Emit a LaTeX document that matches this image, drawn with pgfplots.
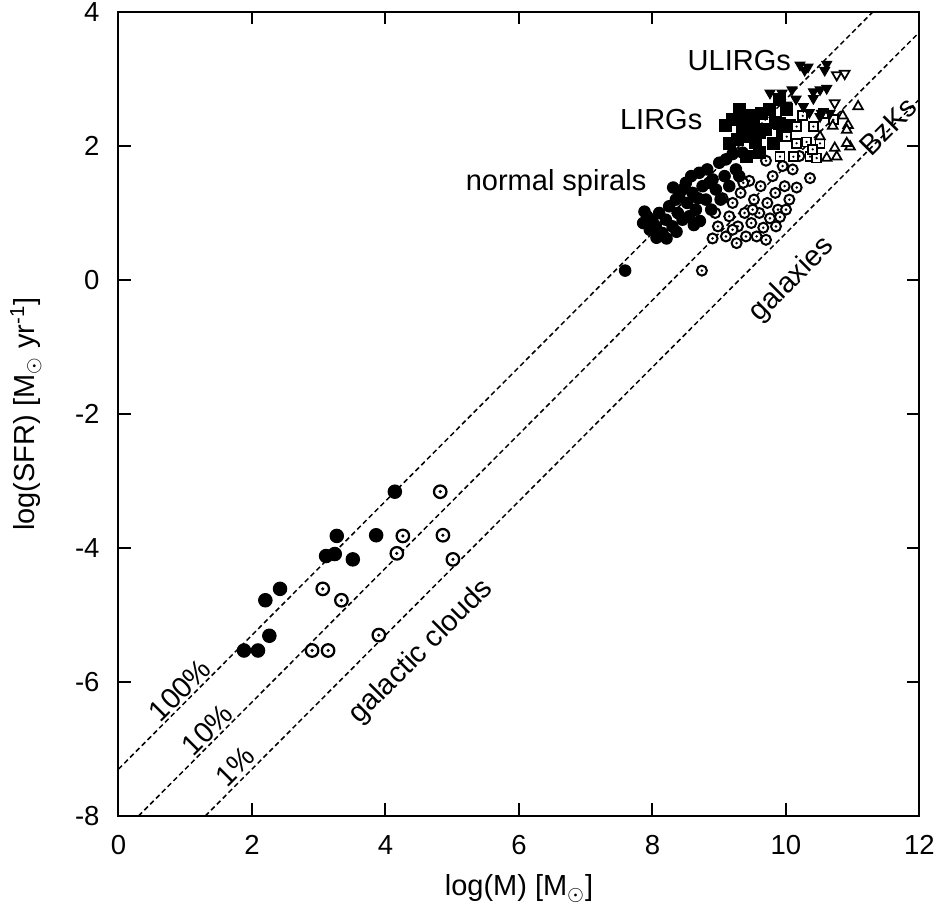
\documentclass[border=0pt]{standalone}
\usepackage{fontspec}
\setmainfont{Liberation Sans}
\usepackage{pgfplots}
\pgfplotsset{compat=1.18}
\pgfdeclareplotmark{odot}{%
  \pgfpathcircle{\pgfpointorigin}{\pgfplotmarksize}%
  \pgfusepathqfillstroke
  \begin{pgfscope}%
  \pgfsetfillcolor{black}%
  \pgfpathcircle{\pgfpointorigin}{0.28\pgfplotmarksize}%
  \pgfusepathqfill
  \end{pgfscope}}
\pgfdeclareplotmark{sqdot}{%
  \pgfpathrectangle{\pgfpoint{-\pgfplotmarksize}{-\pgfplotmarksize}}{\pgfpoint{2\pgfplotmarksize}{2\pgfplotmarksize}}%
  \pgfusepathqfillstroke
  \begin{pgfscope}%
  \pgfsetfillcolor{black}%
  \pgfpathcircle{\pgfpointorigin}{0.28\pgfplotmarksize}%
  \pgfusepathqfill
  \end{pgfscope}}
\newcommand{\fs}{\fontsize{11}{13}\selectfont}
\newcommand{\fl}{\fontsize{11.6}{13.5}\selectfont}
\begin{document}
\begin{tikzpicture}
\begin{axis}[
  width=320.4pt, height=321.6pt, scale only axis,
  xmin=0, xmax=12, ymin=-8, ymax=4,
  xtick={0,2,...,12}, ytick={-8,-6,...,4},
  tick align=inside, major tick length=5pt,
  axis line style={line width=0.8pt},
  tick style={line width=0.8pt, black},
  /pgf/number format/assume math mode=true,
  ticklabel style={font=\fs, inner sep=0pt},
  yticklabel style={xshift=-7.4pt},
  xticklabel style={yshift=-7.6pt},
  label style={font=\fl, inner sep=0pt},
  xlabel={log(M) [M\textsubscript{$\odot$}]},
  ylabel={log(SFR) [M\textsubscript{$\odot$} yr\textsuperscript{-1}]},
  xlabel style={at={(axis description cs:0.5,0)}, anchor=north, yshift=-23.2pt},
  ylabel style={at={(axis description cs:0,0.5)}, anchor=south, yshift=30.6pt},
]
% efficiency lines
\addplot[black, line width=0.6pt, dash pattern=on 2pt off 1.3pt] coordinates {(0,-7.3) (11.3,4)};
\addplot[black, line width=0.6pt, dash pattern=on 2pt off 1.3pt] coordinates {(0.3,-8) (12,3.7)};
\addplot[black, line width=0.6pt, dash pattern=on 2pt off 1.3pt] coordinates {(1.3,-8) (12,2.7)};

% galactic clouds, filled
\addplot[only marks, mark=*, mark size=2.7pt, black] coordinates {
(4.14,-3.16) (3.27,-3.82) (3.86,-3.81) (3.11,-4.12) (3.24,-4.09) (3.51,-4.17)
(2.42,-4.61) (2.20,-4.78) (2.26,-5.31) (1.88,-5.53) (2.09,-5.53)};
% galactic clouds, open
\addplot[only marks, mark=odot, mark size=2.5pt, black, mark options={fill=white, line width=0.9pt}] coordinates {
(4.82,-3.16) (4.26,-3.82) (4.86,-3.81) (4.17,-4.08) (5.01,-4.17) (3.06,-4.61)
(3.34,-4.78) (3.90,-5.30) (2.90,-5.53) (3.14,-5.53)};

% galaxies (open circles)
\addplot[only marks, mark=odot, mark size=2pt, black, mark options={fill=white, line width=0.8pt}] coordinates {
(8.74,0.14) (8.90,0.62) (8.94,1.00) (8.98,0.80) (9.05,1.22) (9.10,0.65) (9.15,0.95)
(9.20,1.15) (9.26,0.55) (9.28,0.80) (9.32,1.30) (9.38,1.00) (9.40,0.65) (9.45,1.48)
(9.48,0.85) (9.52,1.20) (9.56,0.65) (9.60,1.00) (9.62,1.40) (9.66,0.78) (9.70,1.78)
(9.72,1.15) (9.76,0.92) (9.80,1.55) (9.84,1.30) (9.88,1.05) (9.91,0.94) (9.95,1.70)
(9.98,1.40) (10.05,1.20) (10.10,1.65) (10.16,1.38) (10.20,1.85) (10.36,1.52) (9.36,1.45)
(9.20,0.75) (9.50,1.05) (9.70,0.60) (9.85,0.80) (10.00,1.05)};
% normal spirals
\addplot[only marks, mark=*, mark size=2.3pt, black] coordinates {
(7.59,0.14) (7.88,1.02) (7.86,0.85) (7.92,0.95) (7.96,0.75) (8.00,0.88) (8.06,0.63)
(8.05,0.80) (8.10,1.00) (8.15,0.70) (8.21,0.62) (8.20,0.90) (8.25,1.10) (8.30,0.80)
(8.31,1.38) (8.36,0.72) (8.38,1.00) (8.40,1.25) (8.45,0.90) (8.50,1.45) (8.52,1.15)
(8.55,0.95) (8.58,1.55) (8.60,1.30) (8.65,1.05) (8.70,1.60) (8.71,0.88) (8.75,1.40)
(8.80,1.20) (8.82,1.65) (8.88,1.05) (8.90,1.50) (8.95,1.35) (9.00,1.75) (9.02,1.20)
(9.08,1.55) (9.10,1.80) (9.15,1.40) (9.20,1.88) (9.25,1.65) (9.30,1.55) (9.35,1.90)
(8.35,1.20) (8.62,0.82) (8.45,1.35) (8.68,1.22) (8.85,1.45)};
% LIRGs
\addplot[only marks, mark=square*, mark size=2.4pt, black] coordinates {
(9.09,2.31) (9.16,2.04) (9.20,2.40) (9.31,2.54) (9.35,2.25) (9.41,2.14) (9.41,1.84)
(9.45,2.45) (9.51,2.44) (9.55,2.05) (9.61,1.90) (9.64,2.49) (9.70,2.25) (9.75,2.55)
(9.81,2.04) (9.85,2.35) (9.91,2.34) (9.91,2.69) (9.95,2.15) (10.01,2.54) (10.05,2.30)
(9.28,2.10) (9.50,2.30) (9.40,2.35) (9.60,2.20)};
% BzKs open squares
\addplot[only marks, mark=sqdot, mark size=1.8pt, black, mark options={fill=white, line width=0.7pt}] coordinates {
(10.36,1.84) (10.46,1.82) (10.11,1.84) (10.16,2.04) (10.31,2.06) (10.51,2.04) (10.41,2.29)
(10.16,2.29) (10.01,2.14) (9.91,1.84) (10.56,2.49) (10.71,2.39) (10.25,2.45) (10.40,1.95)};
% open up triangles
\addplot[only marks, mark=triangle*, mark size=2.2pt, black, mark options={fill=white, line width=0.7pt}] coordinates {
(11.08,2.59) (10.93,2.31) (10.96,1.99) (10.73,1.97) (10.91,2.04) (10.76,1.84) (10.61,1.82)
(10.51,2.14) (10.91,2.24) (10.85,2.45) (10.70,2.30)};
% ULIRGs filled down triangles
\addplot[only marks, mark=triangle*, mark size=2.3pt, black, mark options={rotate=180}] coordinates {
(10.21,3.21) (10.33,3.18) (10.61,3.22) (10.28,3.13) (10.58,3.13) (9.76,2.79) (9.94,2.79)
(10.09,2.84) (10.41,2.81) (10.51,2.84) (10.61,2.86) (10.41,2.71) (10.01,2.61) (10.26,2.59)
(10.51,2.44) (10.53,2.49) (10.66,2.49) (10.15,2.70) (10.35,2.50)};
% open down triangles
\addplot[only marks, mark=triangle*, mark size=2.2pt, black, mark options={rotate=180, fill=white, line width=0.7pt}] coordinates {
(10.76,3.06) (10.88,3.08) (10.73,2.64)};

% labels
\node[font=\fl, rotate=45] at (axis cs:0.92,-6.12) {100\%};
\node[font=\fl, rotate=45] at (axis cs:1.33,-6.71) {10\%};
\node[font=\fl, rotate=45] at (axis cs:1.75,-7.26) {1\%};
\node[font=\fl, rotate=45] at (axis cs:4.54,-5.55) {galactic clouds};
\node[font=\fl, rotate=45] at (axis cs:10.09,0.0) {galaxies};
\node[font=\fl, rotate=45] at (axis cs:11.53,2.29) {BzKs};
\node[font=\fl] at (axis cs:9.30,3.27) {ULIRGs};
\node[font=\fl] at (axis cs:8.13,2.40) {LIRGs};
\node[font=\fl, anchor=east] at (axis cs:8.04,1.45) {normal spirals};
\end{axis}
\path (current axis.south west) ++(-47.4pt,-35.6pt) rectangle ++(376pt,362pt);
\end{tikzpicture}
\end{document}
